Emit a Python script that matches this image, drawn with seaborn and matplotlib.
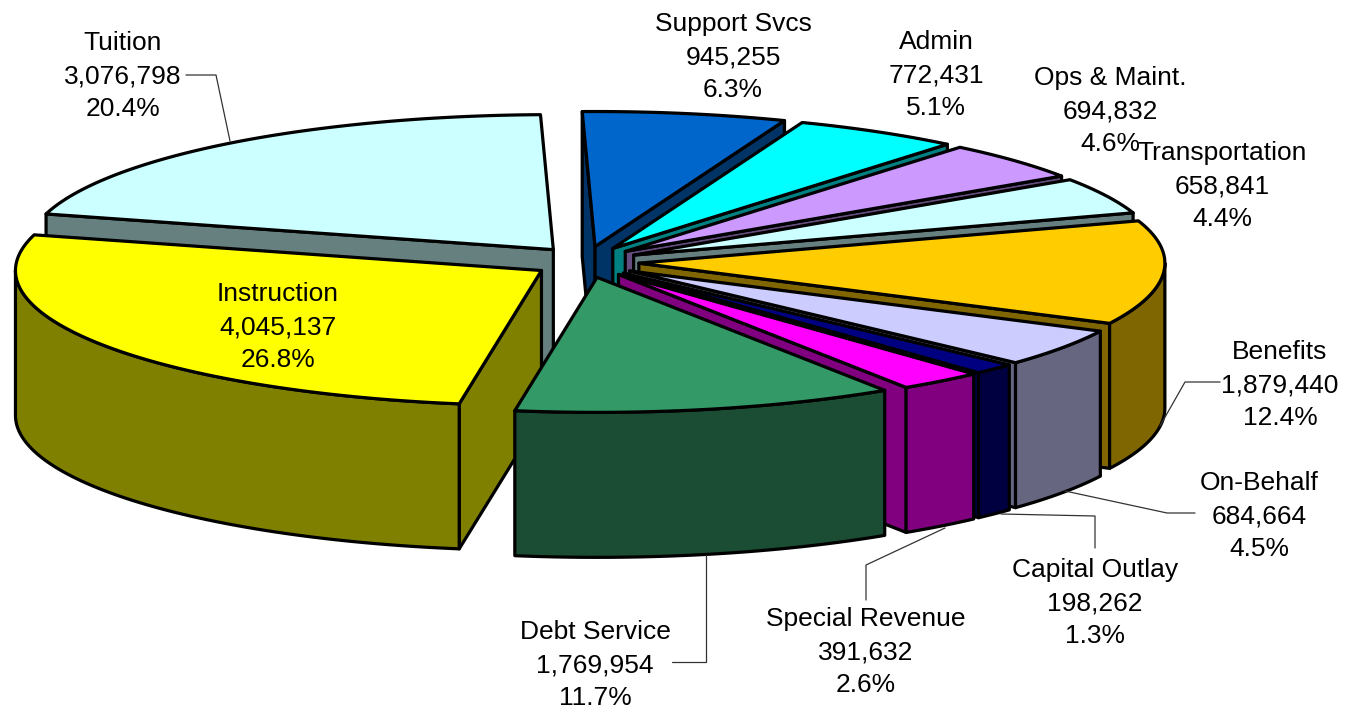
import numpy as np
import matplotlib
matplotlib.use("Agg")
import matplotlib.pyplot as plt
import seaborn as sns

# values, clockwise from the top of the pie
names = ["Support Svcs", "Admin", "Ops & Maint.", "Transportation", "Benefits", "On-Behalf",
         "Capital Outlay", "Special Revenue", "Debt Service", "Instruction", "Tuition"]
values = [945255, 772431, 694832, 658841, 1879440, 684664, 198262, 391632, 1769954, 4045137, 3076798]
colors = ["#0066CC", "#00FFFF", "#CC99FF", "#CCFFFF", "#FFCC00", "#CCCCFF",
          "#000080", "#FF00FF", "#339966", "#FFFF00", "#CCFFFF"]

sns.set_theme(style="white")
plt.rcParams['font.family'] = ['Liberation Sans', 'DejaVu Sans']

# geometry of the fake 3d pie, in pixels
cx, cy = 586, 262
rx, ry = 526, 135
ex, ey = 53, 15.7       # explode
depth = 145
start = -1.4
# far slices first so nearer ones cover them
order = ["Tuition", "Support Svcs", "Admin", "Ops & Maint.", "Transportation", "Benefits",
         "Instruction", "On-Behalf", "Capital Outlay", "Special Revenue", "Debt Service"]

# label centre x, y of first line
label_pos = {"Tuition": (123, 43), "Support Svcs": (733, 24), "Admin": (936, 42),
             "Ops & Maint.": (1110, 78), "Transportation": (1222, 153), "Benefits": (1280, 352),
             "On-Behalf": (1259, 483), "Capital Outlay": (1095, 570), "Special Revenue": (866, 619),
             "Debt Service": (595, 632), "Instruction": (278, 294)}
leaders = [[(186, 75), (216, 75), (230, 141)],
           [(1220, 382), (1185, 382), (1160, 426)],
           [(1065, 491), (1167, 513), (1195, 513)],
           [(1001, 514), (1095, 516), (1095, 548)],
           [(945, 528), (866, 565), (866, 600)],
           [(706, 555), (706, 662), (672, 662)]]

total = sum(values)
edges = start + np.cumsum([0] + values) / total * 360

fig = plt.figure(figsize=(13.49, 7.09), dpi=100)
ax = fig.add_axes([0, 0, 1, 1])
ax.set_xlim(0, 1349)
ax.set_ylim(709, 0)
ax.axis("off")


def rim(a, x0, y0):
    a = np.radians(a)
    return x0 + rx * np.sin(a), y0 - ry * np.cos(a)


def patch(x, y, c, z):
    ax.fill(x, y, facecolor=c, edgecolor="black", lw=2.3, joinstyle="round", zorder=z)


z = 1
for name in order:
    i = names.index(name)
    a0, a1 = edges[i], edges[i + 1]
    mid = np.radians((a0 + a1) / 2)
    x0 = cx + ex * np.sin(mid)
    y0 = cy - ey * np.cos(mid)
    top = colors[i]
    wall = tuple(v * 0.5 for v in matplotlib.colors.to_rgb(top))

    # radial faces, only those turned to the viewer
    for a, visible in [(a0, np.sin(np.radians(a0)) < 0), (a1, np.sin(np.radians(a1)) > 0)]:
        if visible:
            xr, yr = rim(a, x0, y0)
            patch([x0, xr, xr, x0], [y0, yr, yr + depth, y0 + depth], wall, z)
            z += 1

    # outer wall, front half only
    lo, hi = max(a0, 90), min(a1, 270)
    if lo < hi:
        xa, ya = rim(np.linspace(lo, hi, 80), x0, y0)
        patch(np.r_[xa, xa[::-1]], np.r_[ya, ya[::-1] + depth], wall, z)
        z += 1

    xa, ya = rim(np.linspace(a0, a1, 120), x0, y0)
    patch(np.r_[x0, xa], np.r_[y0, ya], top, z)
    z += 1

for pts in leaders:
    xs, ys = zip(*pts)
    ax.plot(xs, ys, color="#333333", lw=0.9, zorder=z)

for name, v in zip(names, values):
    x, y = label_pos[name]
    lines = [name, f"{v:,}", f"{v / total * 100:.1f}%"]
    for k, s in enumerate(lines):
        ax.text(x, y + k * 33.2, s, ha="center", va="center", fontsize=19, color="black", zorder=z + 1)

fig.savefig("out.png", dpi=100)
